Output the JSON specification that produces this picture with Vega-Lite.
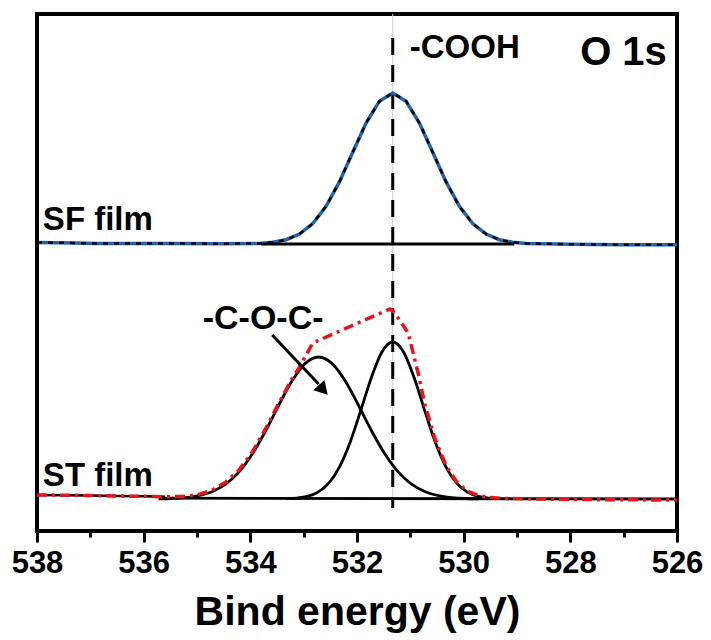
{
  "$schema": "https://vega.github.io/schema/vega-lite/v6.json",
  "width": 640,
  "height": 517,
  "autosize": "none",
  "padding": {"left": 37, "top": 14, "right": 34, "bottom": 109},
  "background": "white",
  "config": {"view": {"stroke": "black", "strokeWidth": 4}},
  "datasets": {
    "sf": [
      {"x": 538, "y": 288.5}, {"x": 537.3, "y": 288}, {"x": 536.9, "y": 287.5}, {"x": 535.5, "y": 287.5}, {"x": 534.5, "y": 287.3},
      {"x": 533.83, "y": 287.6}, {"x": 533.58, "y": 288.7}, {"x": 533.33, "y": 291.3}, {"x": 533.08, "y": 296.9},
      {"x": 532.83, "y": 307.4}, {"x": 532.58, "y": 324.6}, {"x": 532.33, "y": 349.1}, {"x": 532.08, "y": 378.7},
      {"x": 531.83, "y": 408}, {"x": 531.58, "y": 429.8}, {"x": 531.33, "y": 438}, {"x": 531.08, "y": 429.8},
      {"x": 530.83, "y": 408}, {"x": 530.58, "y": 378.7}, {"x": 530.33, "y": 349.1}, {"x": 530.08, "y": 324.6},
      {"x": 529.83, "y": 307.4}, {"x": 529.58, "y": 296.9}, {"x": 529.33, "y": 291.3}, {"x": 529.08, "y": 288.7},
      {"x": 528.83, "y": 287.6}, {"x": 528, "y": 286.8}, {"x": 527, "y": 286.3}, {"x": 526, "y": 286.2}
    ],
    "sfbase": [{"x": 533.8, "y": 287}, {"x": 529.05, "y": 287}],
    "stbase": [{"x": 535.6, "y": 32.8}, {"x": 526, "y": 32}],
    "cooh": [
      {"x": 533.33, "y": 32.3}, {"x": 533.13, "y": 32.9}, {"x": 532.93, "y": 34.6}, {"x": 532.73, "y": 38.9},
      {"x": 532.53, "y": 47.8}, {"x": 532.33, "y": 63.9}, {"x": 532.13, "y": 88.5}, {"x": 531.93, "y": 120.4},
      {"x": 531.73, "y": 153.6}, {"x": 531.53, "y": 179.3}, {"x": 531.33, "y": 189}, {"x": 531.13, "y": 179.3},
      {"x": 530.93, "y": 153.6}, {"x": 530.73, "y": 120.4}, {"x": 530.53, "y": 88.5}, {"x": 530.33, "y": 63.9},
      {"x": 530.13, "y": 47.8}, {"x": 529.93, "y": 38.9}, {"x": 529.73, "y": 34.6}, {"x": 529.53, "y": 32.9},
      {"x": 529.33, "y": 32.3}
    ],
    "coc": [
      {"x": 535.72, "y": 32.2}, {"x": 535.47, "y": 32.5}, {"x": 535.22, "y": 33.4}, {"x": 534.97, "y": 35.3},
      {"x": 534.72, "y": 39.3}, {"x": 534.47, "y": 46.6}, {"x": 534.22, "y": 58.6}, {"x": 533.97, "y": 76.4},
      {"x": 533.72, "y": 99.5}, {"x": 533.47, "y": 125.5}, {"x": 533.22, "y": 149.9}, {"x": 532.97, "y": 167.6},
      {"x": 532.72, "y": 174}, {"x": 532.47, "y": 167.6}, {"x": 532.22, "y": 149.9}, {"x": 531.97, "y": 125.5},
      {"x": 531.72, "y": 99.5}, {"x": 531.47, "y": 76.4}, {"x": 531.22, "y": 58.6}, {"x": 530.97, "y": 46.6},
      {"x": 530.72, "y": 39.3}, {"x": 530.47, "y": 35.3}, {"x": 530.22, "y": 33.4}, {"x": 529.97, "y": 32.5},
      {"x": 529.72, "y": 32.2}
    ],
    "stleft": [
      {"x": 538, "y": 36}, {"x": 537.5, "y": 35.8}, {"x": 537, "y": 35.5}, {"x": 536.5, "y": 35}, {"x": 536, "y": 34.7},
      {"x": 535.6, "y": 34.3}
    ],
    "stenv": [
      {"x": 538, "y": 36}, {"x": 537.5, "y": 35.8}, {"x": 537, "y": 35.5}, {"x": 536.5, "y": 35}, {"x": 536, "y": 34.7},
      {"x": 535.6, "y": 34.3}, {"x": 535.22, "y": 34.5}, {"x": 534.97, "y": 36.5}, {"x": 534.72, "y": 41},
      {"x": 534.47, "y": 48.5}, {"x": 534.22, "y": 60.5}, {"x": 533.97, "y": 78.5}, {"x": 533.72, "y": 101.5},
      {"x": 533.47, "y": 127.5}, {"x": 533.22, "y": 152}, {"x": 533.1, "y": 162}, {"x": 532.83, "y": 188},
      {"x": 531.38, "y": 222}, {"x": 531.29, "y": 218}, {"x": 531.04, "y": 198}, {"x": 530.85, "y": 157},
      {"x": 530.73, "y": 127}, {"x": 530.53, "y": 91}, {"x": 530.33, "y": 65.5}, {"x": 530.13, "y": 49},
      {"x": 529.93, "y": 40}, {"x": 529.73, "y": 35.5}, {"x": 529.53, "y": 33.5}, {"x": 529.2, "y": 32.5},
      {"x": 528.5, "y": 32}, {"x": 528, "y": 31.5}, {"x": 527, "y": 31.2}, {"x": 526, "y": 31}
    ],
    "gline": [{"x": 531.33, "y": 517, "y2": 20}],
    "vline": [{"x": 531.33, "y": 493, "y2": 23}],
    "arrow": [{"x": 533.59, "y": 196, "x2": 532.72, "y2": 147}],
    "arrowhead": [{"x": 532.66, "y": 142.7}],
    "lab_cooh": [{"label": "-COOH", "x": 531.01, "y": 473}],
    "lab_o1s": [{"label": "O 1s", "x": 526.19, "y": 466}],
    "lab_film": [{"label": "SF film", "x": 537.89, "y": 301}, {"label": "ST film", "x": 537.89, "y": 45}],
    "lab_coc": [{"label": "-C-O-C-", "x": 533.76, "y": 202}]
  },
  "encoding": {
    "x": {
      "field": "x", "type": "quantitative",
      "scale": {"domain": [526, 538], "reverse": true, "nice": false, "zero": false},
      "axis": {
        "values": [538, 537, 536, 535, 534, 533, 532, 531, 530, 529, 528, 527, 526],
        "format": "d",
        "labelExpr": "datum.value % 2 === 0 ? datum.label : ''",
        "tickSize": {"condition": {"test": "datum.value % 2 === 0", "value": 11}, "value": 6},
        "tickWidth": 3,
        "tickColor": "black",
        "domain": false,
        "grid": false,
        "labelOverlap": false,
        "labelFlush": false,
        "labelFont": "Liberation Sans",
        "labelFontSize": 31,
        "labelFontWeight": "bold",
        "labelColor": "black",
        "labelPadding": 6,
        "title": "Bind energy (eV)",
        "titleFont": "Liberation Sans",
        "titleFontSize": 41,
        "titleFontWeight": "bold",
        "titleColor": "black",
        "titlePadding": 14
      }
    },
    "y": {
      "field": "y", "type": "quantitative",
      "scale": {"domain": [0, 517], "nice": false, "zero": false},
      "axis": null
    }
  },
  "layer": [
    {"data": {"name": "gline"}, "mark": {"type": "rule", "color": "#d0d0d0", "strokeWidth": 1}, "encoding": {"y2": {"field": "y2"}}},
    {"data": {"name": "vline"}, "mark": {"type": "rule", "color": "black", "strokeWidth": 3, "strokeDash": [17, 10]}, "encoding": {"y2": {"field": "y2"}}},
    {"data": {"name": "sf"}, "mark": {"type": "line", "color": "#2462ad", "strokeWidth": 3.5}},
    {"data": {"name": "sf"}, "mark": {"type": "line", "color": "black", "strokeWidth": 2.5, "strokeDash": [5, 6]}},
    {"data": {"name": "sfbase"}, "mark": {"type": "line", "color": "black", "strokeWidth": 2.8}},
    {"data": {"name": "stbase"}, "mark": {"type": "line", "color": "black", "strokeWidth": 2.8}},
    {"data": {"name": "cooh"}, "mark": {"type": "line", "color": "black", "strokeWidth": 2.8, "interpolate": "monotone"}},
    {"data": {"name": "coc"}, "mark": {"type": "line", "color": "black", "strokeWidth": 2.8, "interpolate": "monotone"}},
    {"data": {"name": "stleft"}, "mark": {"type": "line", "color": "black", "strokeWidth": 2.5}},
    {"data": {"name": "stenv"}, "mark": {"type": "line", "color": "#e8141b", "strokeWidth": 3.5, "strokeDash": [10, 5, 3, 5]}},
    {"data": {"name": "arrow"}, "mark": {"type": "rule", "color": "black", "strokeWidth": 3}, "encoding": {"x2": {"field": "x2"}, "y2": {"field": "y2"}}},
    {"data": {"name": "arrowhead"}, "mark": {"type": "point", "shape": "triangle", "filled": true, "color": "black", "size": 230, "angle": 137, "opacity": 1}},
    {"data": {"name": "lab_cooh"}, "mark": {"type": "text", "align": "left", "baseline": "alphabetic", "font": "Liberation Sans", "fontWeight": "bold", "fontSize": 33, "color": "black"}, "encoding": {"text": {"field": "label"}}},
    {"data": {"name": "lab_o1s"}, "mark": {"type": "text", "align": "right", "baseline": "alphabetic", "font": "Liberation Sans", "fontWeight": "bold", "fontSize": 40, "color": "black"}, "encoding": {"text": {"field": "label"}}},
    {"data": {"name": "lab_film"}, "mark": {"type": "text", "align": "left", "baseline": "alphabetic", "font": "Liberation Sans", "fontWeight": "bold", "fontSize": 33, "color": "black"}, "encoding": {"text": {"field": "label"}}},
    {"data": {"name": "lab_coc"}, "mark": {"type": "text", "align": "center", "baseline": "alphabetic", "font": "Liberation Sans", "fontWeight": "bold", "fontSize": 34, "color": "black"}, "encoding": {"text": {"field": "label"}}}
  ]
}
